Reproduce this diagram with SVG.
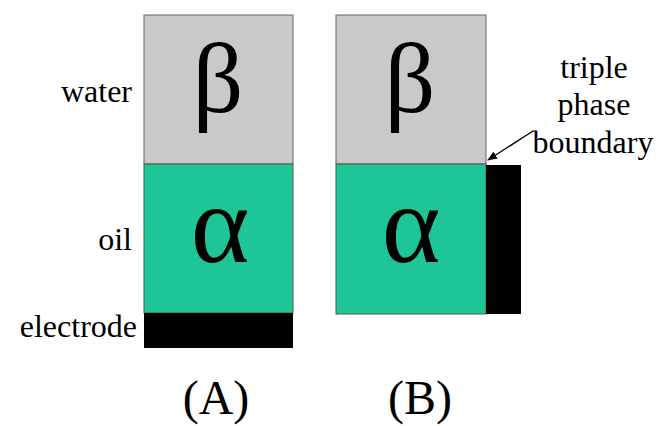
<svg xmlns="http://www.w3.org/2000/svg" width="660" height="426" viewBox="0 0 660 426">
<style>
.t{font-family:"Liberation Serif","Times New Roman",serif;fill:#000}
.w{fill:#c9c9c9;stroke:#666;stroke-width:1}
.o{fill:#1ec596;stroke:#555;stroke-width:1}
.e{fill:#000}
</style>
<defs>
<marker id="ah" markerWidth="10" markerHeight="8" refX="9" refY="4" orient="auto" markerUnits="userSpaceOnUse">
<path d="M0,0 L10,4 L0,8 Z" fill="#000"/>
</marker>
</defs>
<rect width="660" height="426" fill="#fff"/>
<g id="panelA">
<rect class="w" x="144" y="15" width="149" height="149"/>
<rect class="o" x="144" y="164" width="149" height="149"/>
<rect class="e" x="144" y="313" width="149" height="35"/>
<text class="t" x="218" y="112" font-size="100" text-anchor="middle">β</text>
<text class="t" x="220" y="262" font-size="112" text-anchor="middle">α</text>
</g>
<g id="panelB">
<rect class="w" x="336" y="15" width="150" height="149"/>
<rect class="o" x="336" y="164" width="150" height="150"/>
<rect class="e" x="486" y="165" width="35" height="149"/>
<text class="t" x="410" y="112" font-size="100" text-anchor="middle">β</text>
<text class="t" x="411" y="262" font-size="112" text-anchor="middle">α</text>
</g>
<g id="labels">
<text class="t" x="132" y="102" font-size="32" text-anchor="end">water</text>
<text class="t" x="132" y="250" font-size="32" text-anchor="end">oil</text>
<text class="t" x="137" y="337" font-size="32" text-anchor="end">electrode</text>
<text class="t" x="594" y="78" font-size="32" text-anchor="middle">triple</text>
<text class="t" x="594" y="115" font-size="32" text-anchor="middle">phase</text>
<text class="t" x="593" y="153" font-size="32" text-anchor="middle">boundary</text>
<text class="t" x="216" y="414" font-size="48" text-anchor="middle">(A)</text>
<text class="t" x="420" y="414" font-size="48" text-anchor="middle">(B)</text>
</g>
<g id="connectors">
<line x1="533" y1="131" x2="488" y2="160" stroke="#000" stroke-width="1.3" marker-end="url(#ah)"/>
</g>
</svg>
